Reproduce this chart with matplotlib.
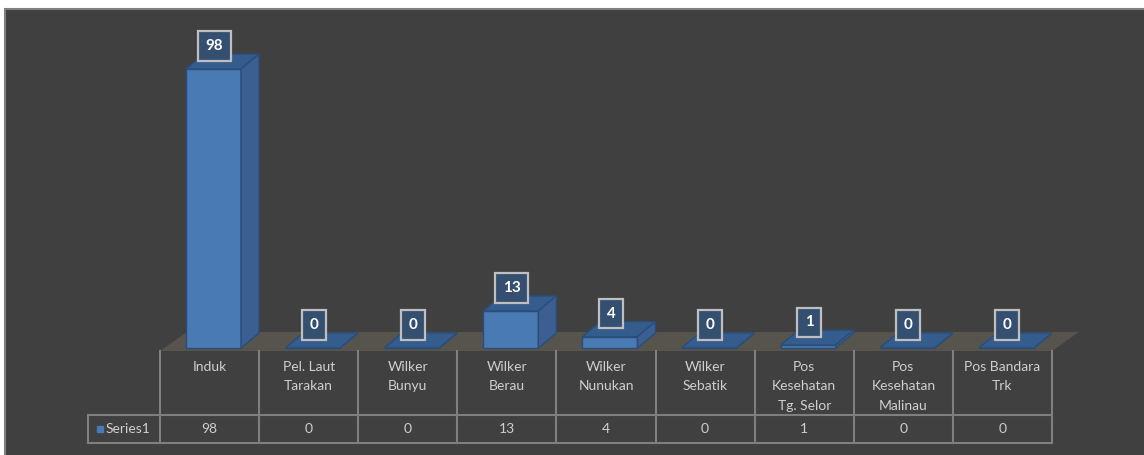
import matplotlib.pyplot as plt
from matplotlib.patches import Polygon, Rectangle

# chart data
categories = ['Induk', 'Pel. Laut\nTarakan', 'Wilker\nBunyu', 'Wilker\nBerau',
              'Wilker\nNunukan', 'Wilker\nSebatik', 'Pos\nKesehatan\nTg. Selor',
              'Pos\nKesehatan\nMalinau', 'Pos Bandara\nTrk']
values = [98, 0, 0, 13, 4, 0, 1, 0, 0]
series_name = 'Series1'

W, H = 1144, 455
BG = '#404040'
FRONT = '#4a7ab3'
SIDE = '#3a5f90'
TOP = '#345d8d'
EDGE = '#2b4d7a'
GRID = '#7f7f7f'
TXT = '#cfcfcf'

plt.rcParams['font.family'] = ['Lato', 'DejaVu Sans']

fig = plt.figure(figsize=(W / 100, H / 100), dpi=100, facecolor='white')
fig.add_artist(Rectangle((5 / W, -10 / H), (W + 10) / W, (H - 9 + 10) / H,
                         transform=fig.transFigure, fc=BG, ec=GRID, lw=1.5, zorder=0))

# plot area: column width ~99 px, 98 units ~ 279 px
pxx = 892 / 9
s = 279 / 98
ax = fig.add_axes([160 / W, (H - 351) / H, 892 / W, 331 / H])
ax.set_xlim(-0.5, 8.5)
ax.set_ylim(-3 / s, 328 / s)
ax.axis('off')

# floor
fdx, fdy = 27 / pxx, 16 / s
ax.add_patch(Polygon([(-0.5, -3 / s), (8.5, -3 / s), (8.5 + fdx, fdy), (-0.5 + fdx, fdy)],
                     closed=True, fc='#57544d', ec='none', clip_on=False, zorder=1))

# 3d-ish bars
bw = 0.555
bc = 0.04
ddx, ddy = 18 / pxx, 15 / s
idx = list(range(len(values)))
ax.bar([i + bc for i in idx], values, width=bw, color=FRONT, edgecolor=EDGE,
       linewidth=1, zorder=3)
for i, v in zip(idx, values):
    x0, x1 = i + bc - bw / 2, i + bc + bw / 2
    ax.add_patch(Polygon([(x0, v), (x1, v), (x1 + ddx, v + ddy), (x0 + ddx, v + ddy)],
                         closed=True, fc=TOP, ec=EDGE, lw=1, zorder=3))
    ax.add_patch(Polygon([(x1, 0), (x1 + ddx, ddy), (x1 + ddx, v + ddy), (x1, v)],
                         closed=True, fc=SIDE, ec=EDGE, lw=1, zorder=3))
    ax.annotate(str(v), (i + 0.05, v), xytext=(0, 16.5), textcoords='offset points',
                ha='center', va='center', color='white', fontsize=11, fontweight='bold',
                bbox=dict(boxstyle='square,pad=0.5', fc='#344f70', ec='#bfbfbf', lw=1.6),
                zorder=5)

# data table
tx = fig.add_axes([160 / W, (H - 443) / H, 892 / W, 92 / H])
tx.set_xlim(-0.5, 8.5)
tx.set_ylim(443, 351)
tx.axis('off')
left = -0.5 - 72 / pxx
for k in range(len(values) + 1):
    tx.plot([k - 0.5, k - 0.5], [351, 443], color=GRID, lw=1.5, clip_on=False)
tx.plot([left, 8.5], [415, 415], color=GRID, lw=1.5, clip_on=False)
tx.plot([left, 8.5], [443, 443], color=GRID, lw=1.5, clip_on=False)
tx.plot([left, left], [415, 443], color=GRID, lw=1.5, clip_on=False)

for i, (c, v) in enumerate(zip(categories, values)):
    tx.text(i, 361, c, ha='center', va='top', linespacing=1.75, color=TXT, fontsize=10)
    tx.text(i, 429, str(v), ha='center', va='center', color=TXT, fontsize=10)

tx.plot([left + 12 / pxx], [429], marker='s', ms=5, color=FRONT, clip_on=False)
tx.text(left + 18 / pxx, 429, series_name, ha='left', va='center', color=TXT, fontsize=10)

fig.savefig('out.png', dpi=100, facecolor=fig.get_facecolor())
